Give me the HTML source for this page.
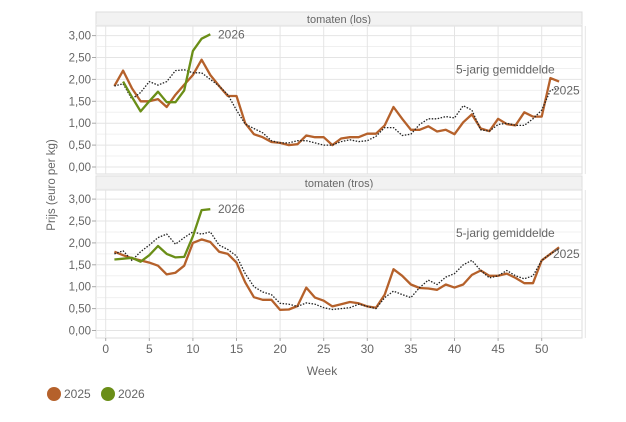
<!DOCTYPE html>
<html><head><meta charset="utf-8"><style>
body{margin:0;background:#fff;width:626px;height:417px;overflow:hidden;font-family:"Liberation Sans",sans-serif}
svg text{font-family:"Liberation Sans",sans-serif;fill:#666}
</style></head><body>
<svg id="s" width="626" height="417" viewBox="0 0 626 417" xmlns="http://www.w3.org/2000/svg"></svg>
<script>
const S=document.getElementById('s');let h='';
const X=w=>105.7+8.72*w;
const panels=[{top:12,zero:167,t:'tomaten (los)',
o:[1.85,2.2,1.8,1.5,1.5,1.55,1.37,1.65,1.88,2.1,2.45,2.1,1.85,1.62,1.62,1.0,0.75,0.68,0.57,0.55,0.5,0.52,0.72,0.68,0.68,0.5,0.65,0.68,0.68,0.76,0.76,0.95,1.37,1.1,0.85,0.85,0.93,0.81,0.85,0.75,1.02,1.2,0.88,0.82,1.1,0.98,0.95,1.25,1.15,1.15,2.03,1.95],
a:[1.85,1.9,1.55,1.7,1.95,1.87,1.95,2.2,2.22,2.15,2.15,2.0,1.85,1.65,1.3,0.98,0.88,0.78,0.6,0.55,0.55,0.6,0.6,0.55,0.5,0.5,0.58,0.62,0.58,0.6,0.7,0.9,0.9,0.72,0.75,0.97,1.1,1.1,1.15,1.12,1.4,1.3,0.85,0.82,0.97,1.0,0.95,0.95,1.1,1.3,1.75,1.8],
g:[null,1.95,1.6,1.27,1.5,1.72,1.48,1.48,1.75,2.65,2.93,3.03],lab2:1.85,g26:3.03},
{top:176,zero:330.5,t:'tomaten (tros)',
o:[1.8,1.72,1.65,1.6,1.55,1.48,1.28,1.32,1.48,2.0,2.08,2.02,1.8,1.75,1.55,1.1,0.76,0.7,0.7,0.47,0.48,0.56,0.98,0.75,0.68,0.55,0.6,0.65,0.62,0.55,0.52,0.82,1.4,1.25,1.05,0.97,0.96,0.93,1.05,0.98,1.05,1.27,1.37,1.25,1.25,1.3,1.2,1.08,1.08,1.6,1.75,1.9],
a:[1.75,1.82,1.6,1.8,1.95,2.12,2.2,1.97,2.12,2.25,2.2,2.25,1.95,1.85,1.7,1.3,1.0,0.88,0.82,0.62,0.6,0.55,0.63,0.6,0.52,0.48,0.5,0.52,0.6,0.55,0.5,0.75,0.9,0.82,0.75,0.98,1.15,1.05,1.22,1.3,1.5,1.6,1.37,1.2,1.25,1.37,1.25,1.18,1.25,1.6,1.75,1.87],
g:[1.62,1.64,1.66,1.57,1.72,1.93,1.75,1.67,1.68,2.15,2.75,2.77],g26:2.77}];
panels.forEach(p=>{
 const Y=v=>p.zero-43.8*v, bot=p.top+162;
 h+=`<rect x="96" y="${p.top}" width="486" height="14" fill="#f2f2f2" stroke="#ddd" stroke-width="1"/>`;
 h+=`<text x="339" y="${p.top+11}" font-size="11" text-anchor="middle">${p.t}</text>`;
 h+=`<rect x="96" y="${p.top+14}" width="486" height="${bot-p.top-14}" fill="#fff" stroke="#ddd"/>`;
 for(let v=0;v<=3.25;v+=0.25){const y=Y(v);h+=`<line x1="96" x2="582" y1="${y}" y2="${y}" stroke="${v*2%1==0?'#e4e4e4':'#f0f0f0'}"/>`;
  if(v*2%1==0)h+=`<text x="91" y="${y+4}" font-size="11.5" text-anchor="end">${v.toFixed(2).replace('.',',')}</text><line x1="92" x2="96" y1="${y}" y2="${y}" stroke="#aaa"/>`;}
 for(let w=0;w<=55;w+=5){h+=`<line x1="${X(w)}" x2="${X(w)}" y1="${p.top+14}" y2="${bot}" stroke="#e4e4e4"/>`;}
 const pl=(arr,c,wd,d)=>{let pts=[];arr.forEach((v,i)=>{if(v!=null)pts.push(X(i+1).toFixed(1)+','+Y(v).toFixed(1))});
  h+=`<polyline points="${pts.join(' ')}" fill="none" stroke="${c}" stroke-width="${wd}" stroke-linejoin="round" ${d?'stroke-dasharray="1.5 1.5"':''}/>`;};
 pl(p.o,'#b5612b',2.3);pl(p.a,'#222',1.3,1);pl(p.g,'#6a8e17',2.3);
 h+=`<text x="218" y="${Y(p.g26)+4}" font-size="12">2026</text>`;
 h+=`<text x="456" y="${Y(2.0)-6}" font-size="12">5-jarig gemiddelde</text>`;
 h+=`<text x="553" y="${Y(1.75)+4}" font-size="12">2025</text>`;
});
for(let w=0;w<=50;w+=5)h+=`<line x1="${X(w)}" x2="${X(w)}" y1="338" y2="341" stroke="#aaa"/><text x="${X(w)}" y="353" font-size="12" text-anchor="middle">${w}</text>`;
h+=`<text x="322" y="375" font-size="12" text-anchor="middle">Week</text>`;
h+=`<text transform="translate(55,185) rotate(-90)" font-size="11.5" text-anchor="middle">Prijs (euro per kg)</text>`;
h+=`<circle cx="54" cy="394" r="7" fill="#b5612b"/><text x="64" y="398" font-size="12">2025</text>`;
h+=`<circle cx="108" cy="394" r="7" fill="#6a8e17"/><text x="118" y="398" font-size="12">2026</text>`;
S.innerHTML=h;
</script>
</body></html>
